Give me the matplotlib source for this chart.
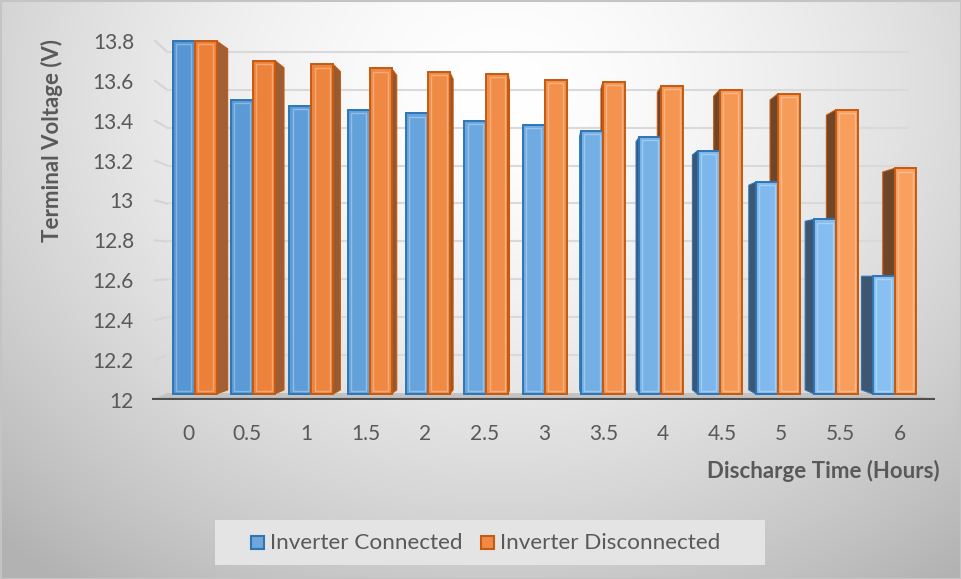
import numpy as np
import matplotlib
matplotlib.use("Agg")
import matplotlib.pyplot as plt
from matplotlib.patches import Polygon, Rectangle

# ---- data ----
hours = ["0", "0.5", "1", "1.5", "2", "2.5", "3", "3.5", "4", "4.5", "5", "5.5", "6"]
inverter_connected = [13.80, 13.50, 13.47, 13.45, 13.43, 13.39, 13.37, 13.34, 13.31, 13.24, 13.08, 12.89, 12.60]
inverter_disconnected = [13.80, 13.70, 13.68, 13.66, 13.64, 13.63, 13.60, 13.59, 13.57, 13.55, 13.53, 13.45, 13.15]
series_names = ["Inverter Connected", "Inverter Disconnected"]
y_ticks = [12, 12.2, 12.4, 12.6, 12.8, 13, 13.2, 13.4, 13.6, 13.8]
y_ticklabels = ["12", "12.2", "12.4", "12.6", "12.8", "13", "13.2", "13.4", "13.6", "13.8"]

plt.rcParams["font.family"] = ["Lato", "DejaVu Sans"]
TEXT = "#595959"

W, H = 961, 579
fig = plt.figure(figsize=(W / 100, H / 100), dpi=100)

# soft radial background
bg = fig.add_axes([0, 0, 1, 1], zorder=-10)
yy, xx = np.mgrid[0:H, 0:W]
r = np.sqrt(((xx - 500) / 560.0) ** 2 + ((yy - 90) / 470.0) ** 2)
v = 255 - 50 * np.clip(r, 0, 1.3) ** 1.6
img = np.dstack([v, v, v]).astype(np.uint8)
bg.imshow(img, aspect="auto", extent=[0, W, H, 0])
bg.add_patch(Rectangle((0.5, 0.5), W - 1, H - 1, fill=False, ec="#c4c4c4", lw=1.5))
bg.set_xlim(0, W); bg.set_ylim(H, 0)
bg.axis("off")

# plot area
ax = fig.add_axes([152 / W, (H - 400) / H, (935 - 152) / W, (400 - 25) / H])
ax.patch.set_alpha(0)
x0, x1 = -0.607, 12.59
y0, y1 = 12.0, 12.0 + 375 / 199.5
ax.set_xlim(x0, x1)
ax.set_ylim(y0, y1)
for s in ax.spines.values():
    s.set_visible(False)

n = len(hours)
ax.set_xticks(np.arange(n))
ax.set_xticklabels(hours)
ax.set_yticks(y_ticks)
ax.set_yticklabels(y_ticklabels)
ax.tick_params(axis="x", length=0, pad=17, labelsize=15, labelcolor=TEXT)
ax.tick_params(axis="y", length=0, pad=13, labelsize=15, labelcolor=TEXT)

# walls / floor (projection of the front plane toward the back)
KW = 0.05
VW = (3.57, 12.70)


def wall(x, y):
    return x + KW * (VW[0] - x), y + KW * (VW[1] - y)


bl = wall(x0 + 0.05, 12.0)
br = wall(x1, 12.0)
for t in y_ticks[1:]:
    bxl, byl = wall(x0 + 0.05, t)
    bxr, byr = wall(x1, t)
    ax.plot([x0 + 0.05, bxl], [t, byl], color="#d4d4d4", lw=1.5, zorder=1)
    ax.plot([bxl, bxr], [byl, byr], color="#d9d9d9", lw=1.5, zorder=1)

floor = Polygon([(x0, 12.0), (x1, 12.0), br, bl], closed=True,
                fc="#c3c3c3", ec="none", zorder=1.5)
ax.add_patch(floor)
ax.plot([x0, x1], [12.0, 12.0], color="#4f4f4f", lw=3, solid_capstyle="butt", zorder=10)

# bars: front plane scaled toward (VB) and extruded toward (VD)
S = 0.983
VB = (6.556, 13.8)
K = 0.0336
VD = (6.02, 12.62)
BW = 0.377


def proj(x, y):
    return VB[0] + S * (x - VB[0]), VB[1] + S * (y - VB[1])


def back(p):
    return p[0] + K * (VD[0] - p[0]), p[1] + K * (VD[1] - p[1])


def mix(c0, c1, t):
    return tuple((a + (b - a) * t) / 255.0 for a, b in zip(c0, c1))


styles = [
    dict(c0=(86, 150, 210), c1=(136, 192, 242), edge="#2e75b6",
         side_r=(60, 88, 120), side_l=(62, 86, 112)),
    dict(c0=(236, 128, 56), c1=(249, 160, 95), edge="#c55a11",
         side_r=(160, 95, 52), side_l=(112, 70, 42)),
]

sides, fronts = [], []
for si, values in enumerate([inverter_connected, inverter_disconnected]):
    st = styles[si]
    for i, val in enumerate(values):
        t = i / (n - 1)
        left = i - BW if si == 0 else i
        right = left + BW
        fl_b = proj(left, 12.0); fr_b = proj(right, 12.0)
        fl_t = proj(left, val); fr_t = proj(right, val)
        # side faces
        if fr_b[0] < VD[0]:
            side_col = np.array(st["side_r"]) / 255.0 * (1.0 - 0.3 * t)
            sides.append(Polygon([fr_b, fr_t, back(fr_t), back(fr_b)], closed=True,
                                 fc=np.clip(side_col, 0, 1), ec=st["edge"], lw=0.8, zorder=3))
        if fl_b[0] > VD[0]:
            side_col = np.array(st["side_l"]) / 255.0
            sides.append(Polygon([fl_b, fl_t, back(fl_t), back(fl_b)], closed=True,
                                 fc=np.clip(side_col, 0, 1), ec=st["edge"], lw=0.8, zorder=3))
        if fl_t[1] < VD[1]:
            sides.append(Polygon([fl_t, fr_t, back(fr_t), back(fl_t)], closed=True,
                                 fc=mix(st["c0"], st["c1"], t), ec=st["edge"], lw=0.8, zorder=3))
        face = mix(st["c0"], st["c1"], t)
        fronts.append(Polygon([fl_b, fr_b, fr_t, fl_t], closed=True,
                              fc=face, ec=st["edge"], lw=1.4, zorder=5))
        # bevel highlight
        dx, dy = 0.055, 0.016
        fronts.append(Polygon([(fl_b[0] + dx, fl_b[1] + dy), (fr_b[0] - dx, fr_b[1] + dy),
                               (fr_t[0] - dx, fr_t[1] - dy), (fl_t[0] + dx, fl_t[1] - dy)],
                              closed=True, fill=False, ec=(1, 1, 1, 0.30), lw=1.0, zorder=6))

for p in sides:
    ax.add_patch(p)
for p in fronts:
    ax.add_patch(p)

# axis titles
fig.text(52 / W, 1 - 140 / H, "Terminal Voltage (V)", rotation=90, ha="center", va="center",
         fontsize=16, fontweight="bold", color=TEXT)
fig.text(940 / W, 1 - 471 / H, "Discharge Time (Hours)", ha="right", va="center",
         fontsize=16, fontweight="bold", color=TEXT)

# legend
lg = fig.add_axes([215 / W, (H - 565) / H, (765 - 215) / W, 45 / H])
lg.set_xlim(215, 765); lg.set_ylim(565, 520)
lg.add_patch(Rectangle((215, 520), 550, 45, fc="#e4e4e4", ec="none"))
lg.add_patch(Rectangle((251, 536), 13, 13, fc="#6fa6dc", ec="#2e75b6", lw=1.5))
lg.add_patch(Rectangle((481, 536), 13, 13, fc="#f08a46", ec="#c55a11", lw=1.5))
lg.text(270, 543, series_names[0], ha="left", va="center", fontsize=16.2, color=TEXT)
lg.text(500, 543, series_names[1], ha="left", va="center", fontsize=16.2, color=TEXT)
lg.axis("off")

fig.savefig("out.png", dpi=100)
